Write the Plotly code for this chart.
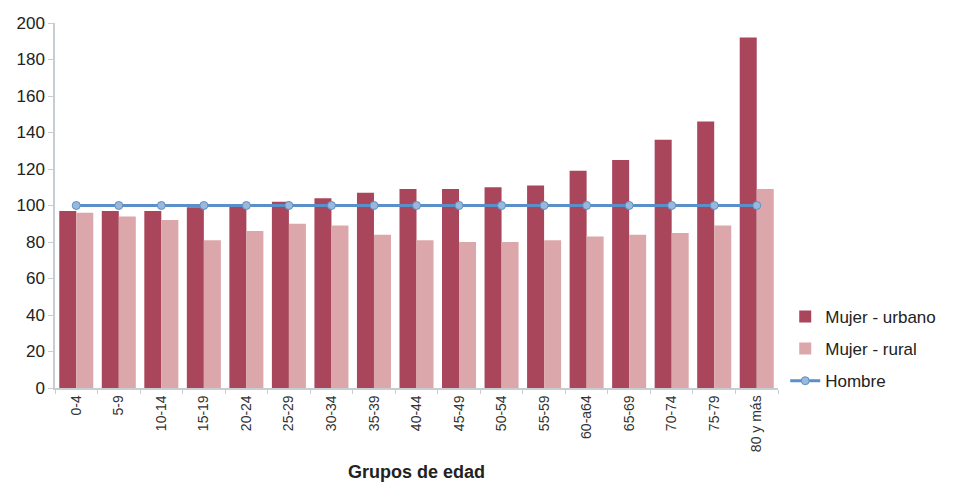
import plotly.graph_objects as go

grupos = ["0-4", "5-9", "10-14", "15-19", "20-24", "25-29", "30-34", "35-39",
          "40-44", "45-49", "50-54", "55-59", "60-a64", "65-69", "70-74",
          "75-79", "80 y más"]
mujer_urbano = [97, 97, 97, 99, 100, 102, 104, 107, 109, 109, 110, 111,
                119, 125, 136, 146, 192]
mujer_rural = [96, 94, 92, 81, 86, 90, 89, 84, 81, 80, 80, 81,
               83, 84, 85, 89, 109]
hombre = [100] * len(grupos)

FONT = "Liberation Sans, Arial, sans-serif"

fig = go.Figure()
fig.add_trace(go.Bar(
    x=grupos, y=mujer_urbano, name="Mujer - urbano",
    marker=dict(color="#a9465b", line=dict(width=0)),
    legendgroup="a",
))
fig.add_trace(go.Bar(
    x=grupos, y=mujer_rural, name="Mujer - rural",
    marker=dict(color="#dca7ab", line=dict(width=0)),
    legendgroup="b",
))
fig.add_trace(go.Scatter(
    x=grupos, y=hombre, name="Hombre", mode="lines+markers",
    line=dict(color="#5b8fc7", width=3),
    marker=dict(color="#9ab8dc", size=8, line=dict(color="#5b8fc7", width=1)),
    legendgroup="c",
))

fig.update_layout(
    width=954, height=483,
    margin=dict(l=55, r=176, t=23, b=95, autoexpand=False),
    paper_bgcolor="white", plot_bgcolor="white",
    font=dict(family=FONT, size=17, color="#333333"),
    barmode="group", bargap=0.2, bargroupgap=0,
    showlegend=True,
    legend=dict(
        x=1.01, xanchor="left", y=-0.03, yanchor="bottom",
        font=dict(size=17, color="#222222"),
        tracegroupgap=7, traceorder="grouped",
        bgcolor="rgba(0,0,0,0)",
    ),
    xaxis=dict(
        title=dict(text="<b>Grupos de edad</b>", font=dict(size=18, color="#222222"), standoff=14),
        range=[-0.5, len(grupos) - 0.5],
        tickangle=-90, tickfont=dict(size=14, color="#333333"),
        showline=True, linecolor="#c8cdd2", linewidth=1.5,
        ticks="outside", ticklen=4, tickcolor="#c8cdd2", tickson="boundaries",
        showgrid=False, automargin=False,
    ),
    yaxis=dict(
        range=[0, 200], dtick=20, tick0=0,
        tickfont=dict(size=17, color="#222222"),
        showline=True, linecolor="#c8cdd2", linewidth=1.5,
        ticks="outside", ticklen=5, tickcolor="#c8cdd2",
        showgrid=False, zeroline=False, automargin=False,
    ),
)

fig.write_html("out.html")
